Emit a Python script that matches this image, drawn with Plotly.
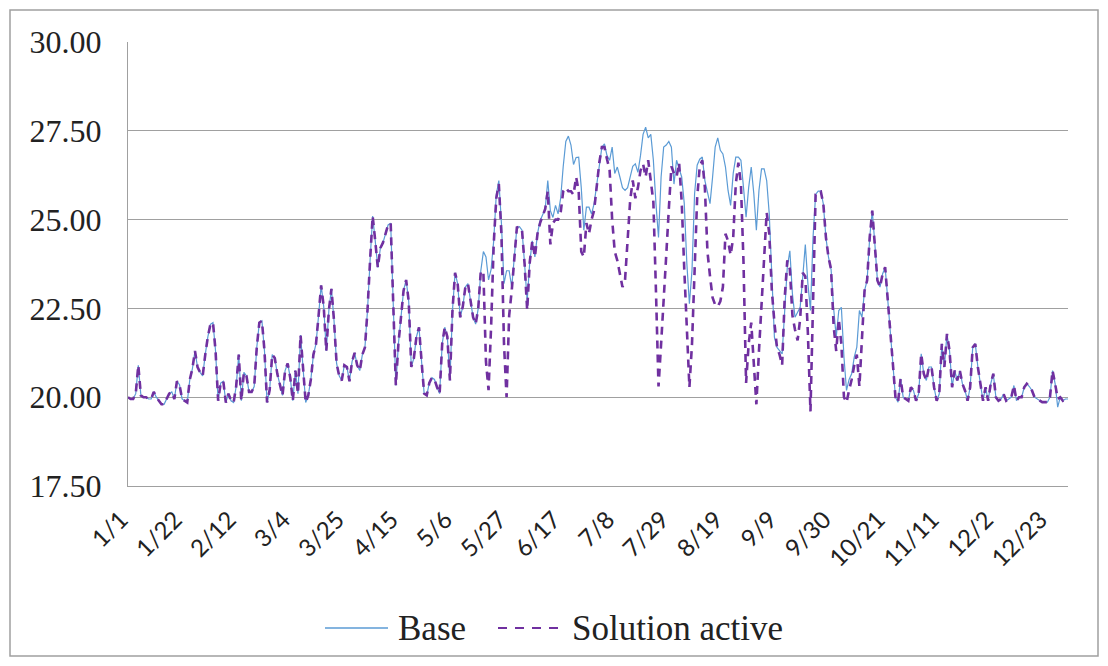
import datetime
import plotly.graph_objects as go

# Daily categories (leap year: 1/1 .. 12/31, 366 days)
start = datetime.date(2024, 1, 1)
days = [f"{(start + datetime.timedelta(d)).month}/{(start + datetime.timedelta(d)).day}" for d in range(366)]
tick_labels = days[::21]

base = [
    20.0, 19.95, 19.95, 20.1, 20.9, 20.05, 20.0, 20.0, 19.95, 19.95,
    20.15, 20.0, 19.9, 19.8, 19.8, 19.95, 20.1, 20.15, 19.95, 20.45,
    20.35, 19.95, 19.9, 19.85, 20.5, 20.8, 21.3, 20.85, 20.7, 20.6,
    21.2, 21.7, 22.05, 22.1, 21.3, 19.9, 20.4, 20.45, 19.85, 20.1,
    19.9, 19.85, 20.3, 21.2, 19.9, 20.7, 20.6, 20.15, 20.15, 20.3,
    21.4, 22.1, 22.15, 21.3, 19.85, 20.2, 21.2, 21.1, 20.65, 20.3,
    20.05, 20.75, 20.95, 20.55, 19.9, 20.75, 20.1, 21.75, 20.85, 19.85,
    20.05, 20.5, 21.2, 21.5, 22.3, 23.15, 22.55, 21.3, 22.45, 23.05,
    22.15, 20.95, 20.6, 20.47, 20.9, 20.85, 20.45, 21.0, 21.25, 20.9,
    20.75, 21.2, 21.4, 22.45, 23.85, 25.1, 24.4, 23.65, 24.2, 24.35,
    24.6, 24.85, 24.9, 22.4, 20.33, 21.5, 22.25, 23.0, 23.3, 22.7,
    20.85, 21.1, 21.7, 21.97, 21.0, 20.1, 20.05, 20.4, 20.55, 20.5,
    20.28, 20.1, 21.5, 21.97, 21.7, 20.47, 22.45, 23.5, 23.2, 22.25,
    22.55, 23.1, 23.2, 22.72, 22.25, 22.06, 22.5, 23.56, 24.1, 23.95,
    23.3, 23.6, 24.4, 25.7, 26.1, 24.9, 23.2, 23.56, 23.56, 23.1,
    24.0, 24.78, 24.8, 24.7, 23.75, 22.72, 23.8, 24.4, 23.95, 24.6,
    24.97, 25.16, 25.3, 26.1, 25.25, 25.06, 25.4, 25.16, 25.6, 26.5,
    27.2, 27.35, 27.1, 26.55, 26.75, 26.76, 25.9, 24.7, 25.35, 25.35,
    25.16, 25.45, 26.0, 26.6, 27.04, 27.13, 26.8, 26.67, 27.04, 26.3,
    26.48, 26.2, 25.9, 25.82, 25.9, 26.2, 26.5, 26.57, 26.33, 26.8,
    27.4, 27.6, 27.3, 27.4, 26.67, 25.45, 24.5, 26.2, 27.04, 27.1,
    27.2, 27.04, 26.0, 26.67, 26.4, 26.2, 25.45, 23.76, 22.63, 23.57,
    25.73, 26.53, 26.7, 26.76, 26.1, 25.73, 25.45, 26.2, 27.04, 27.3,
    26.95, 26.85, 26.48, 25.82, 25.4, 26.3, 26.76, 26.76, 26.67, 25.9,
    25.07, 25.9, 26.48, 25.73, 24.7, 25.82, 26.43, 26.43, 26.1, 25.16,
    23.38, 21.69, 21.4, 21.3, 21.22, 22.44, 23.66, 24.12, 22.9, 22.25,
    22.4, 22.53, 23.38, 24.3, 23.2, 22.44, 24.5, 25.71, 25.8, 25.8,
    25.44, 24.5, 23.94, 23.6, 22.5, 21.69, 22.44, 22.53, 21.13, 20.19,
    20.5, 20.66, 21.13, 21.41, 22.44, 22.25, 23.0, 23.29, 24.5, 25.25,
    24.32, 23.29, 23.1, 23.47, 23.66, 22.81, 21.8, 20.94, 20.0, 19.86,
    20.52, 20.0, 19.95, 19.9, 20.28, 20.19, 19.9, 20.09, 21.22, 20.66,
    20.47, 20.85, 20.85, 20.28, 19.9, 20.09, 21.5, 20.85, 21.78, 21.31,
    20.28, 20.75, 20.47, 20.75, 20.38, 20.19, 19.9, 20.28, 21.4, 21.5,
    20.85, 20.38, 19.9, 20.28, 19.9, 20.38, 20.66, 20.0, 19.9, 19.95,
    20.09, 19.9, 19.95, 20.0, 20.33, 19.9, 20.0, 20.0, 20.28, 20.38,
    20.3, 20.19, 20.0, 19.95, 19.9, 19.86, 19.86, 19.86, 20.0, 20.75,
    20.38, 19.72, 20.0, 19.9, 19.95, 19.95,
]

solution = [
    20.0, 19.95, 19.95, 20.1, 20.9, 20.05, 20.0, 20.0, 19.95, 19.95,
    20.15, 20.0, 19.9, 19.8, 19.8, 19.95, 20.1, 20.15, 19.95, 20.45,
    20.35, 19.95, 19.9, 19.85, 20.5, 20.8, 21.3, 20.85, 20.7, 20.6,
    21.2, 21.7, 22.05, 22.1, 21.3, 19.9, 20.4, 20.45, 19.85, 20.1,
    19.9, 19.85, 20.3, 21.2, 19.9, 20.7, 20.6, 20.15, 20.15, 20.3,
    21.4, 22.1, 22.15, 21.3, 19.85, 20.2, 21.2, 21.1, 20.65, 20.3,
    20.05, 20.75, 20.95, 20.55, 19.9, 20.75, 20.1, 21.75, 20.85, 19.85,
    20.05, 20.5, 21.2, 21.5, 22.3, 23.15, 22.55, 21.3, 22.45, 23.05,
    22.15, 20.95, 20.6, 20.47, 20.9, 20.85, 20.45, 21.0, 21.25, 20.9,
    20.75, 21.2, 21.4, 22.45, 23.85, 25.1, 24.4, 23.65, 24.2, 24.35,
    24.6, 24.85, 24.9, 22.4, 20.33, 21.5, 22.25, 23.0, 23.3, 22.7,
    20.85, 21.1, 21.7, 21.97, 21.0, 20.1, 20.05, 20.4, 20.55, 20.5,
    20.28, 20.1, 21.5, 21.97, 21.7, 20.47, 22.45, 23.5, 23.2, 22.25,
    22.55, 23.1, 23.2, 22.72, 22.25, 22.06, 22.5, 23.56, 23.5, 21.0,
    20.2, 22.0, 24.3, 25.6, 26.0, 24.6, 21.5, 20.0, 22.3, 23.0,
    24.0, 24.78, 24.8, 24.7, 23.75, 22.45, 23.8, 24.4, 23.95, 24.6,
    24.9, 25.1, 25.3, 25.8, 24.3, 24.9, 25.0, 25.0, 25.2, 25.8,
    25.9, 25.8, 25.8, 25.7, 26.2, 25.8, 24.1, 23.95, 24.9, 24.6,
    25.0, 25.26, 26.0, 26.6, 27.04, 27.04, 26.7, 26.4, 25.0, 24.1,
    23.85, 23.5, 23.1, 23.3, 24.5, 25.55, 26.1, 25.6, 25.9, 26.38,
    26.57, 26.2, 26.67, 26.0, 25.5, 23.0, 20.3, 21.5, 22.6, 24.0,
    25.3, 26.5, 26.3, 26.2, 26.6, 25.5, 23.6, 21.8, 20.28, 21.5,
    23.4, 25.6, 26.5, 26.67, 25.9, 24.1, 23.4, 22.8, 22.6, 22.55,
    22.7, 23.1, 24.6, 24.4, 24.0, 24.5, 26.0, 26.6, 26.0, 23.8,
    20.4, 21.5, 22.1, 21.0, 19.8, 21.3, 22.6, 23.8, 25.2, 24.6,
    23.0, 22.1, 21.4, 21.2, 20.9, 22.8, 23.85, 23.6, 22.3, 21.9,
    21.6, 22.2, 23.5, 23.4, 21.8, 19.6, 22.6, 25.71, 25.8, 25.8,
    25.44, 24.5, 23.94, 23.6, 22.0, 21.3, 22.2, 21.5, 20.0, 19.85,
    20.2, 20.5, 20.9, 21.2, 20.3, 21.7, 23.0, 23.29, 24.5, 25.25,
    24.32, 23.29, 23.1, 23.47, 23.66, 22.81, 21.8, 20.94, 20.0, 19.86,
    20.52, 20.0, 19.95, 19.9, 20.28, 20.19, 19.9, 20.09, 21.22, 20.66,
    20.47, 20.85, 20.85, 20.28, 19.9, 20.09, 21.5, 20.85, 21.78, 21.31,
    20.28, 20.75, 20.47, 20.75, 20.38, 20.19, 19.9, 20.28, 21.4, 21.5,
    20.85, 20.38, 19.9, 20.28, 19.9, 20.38, 20.66, 20.0, 19.9, 19.95,
    20.09, 19.9, 19.95, 20.0, 20.33, 19.9, 20.0, 20.0, 20.28, 20.38,
    20.3, 20.19, 20.0, 19.95, 19.9, 19.86, 19.86, 19.86, 20.0, 20.75,
    20.38, 19.95, 20.0, 19.9, 19.95, 19.95,
]

series_names = ["Base", "Solution active"]
colors = ["#5b9bd5", "#7030a0"]

fig = go.Figure()
fig.add_trace(go.Scatter(
    x=days, y=base, name=series_names[0], mode="lines", showlegend=False,
    line=dict(color=colors[0], width=1.2),
))
fig.add_trace(go.Scatter(
    x=days, y=solution, name=series_names[1], mode="lines", showlegend=False,
    line=dict(color=colors[1], width=2.6, dash="8px,6px"),
))

# page body has an 8px margin; figure drawn at (8, 8) on screen
OFF = 8
W, H = 1100, 658
PL, PR, PT, PB = 128, 1068, 42, 486   # plot area in screen px
L, T = PL - OFF, PT - OFF
R = (W + OFF) - PR
B = (H + OFF) - PB
pw, ph = PR - PL, PB - PT

def px(x):
    return (x - PL) / pw

def py(y):
    return (PB - y) / ph

legend_y = py(628)
shapes = [
    dict(type="rect", xref="paper", yref="paper",
         x0=px(10), x1=px(1098), y0=py(656), y1=py(10),
         line=dict(color="#a0a0a0", width=1.5), fillcolor="rgba(0,0,0,0)", layer="below"),
    dict(type="line", xref="paper", yref="paper", x0=px(325), x1=px(388), y0=legend_y, y1=legend_y,
         line=dict(color=colors[0], width=1.4)),
    dict(type="line", xref="paper", yref="paper", x0=px(498), x1=px(559), y0=legend_y, y1=legend_y,
         line=dict(color=colors[1], width=2.2, dash="9px,8px")),
]
annotations = [
    dict(text=series_names[0], xref="paper", yref="paper", x=px(396), y=legend_y,
         xanchor="left", yanchor="middle", showarrow=False,
         font=dict(family="Liberation Serif", size=35, color="#222")),
    dict(text=series_names[1], xref="paper", yref="paper", x=px(570), y=legend_y,
         xanchor="left", yanchor="middle", showarrow=False,
         font=dict(family="Liberation Serif", size=35, color="#222")),
]

fig.update_layout(
    width=W, height=H,
    margin=dict(l=L, r=R, t=T, b=B, autoexpand=False),
    paper_bgcolor="white", plot_bgcolor="white",
    showlegend=False,
    xaxis=dict(
        type="category", categoryorder="array", categoryarray=days,
        range=[0, 365], tickmode="array", tickvals=tick_labels, ticktext=tick_labels,
        tickangle=-45, showgrid=False, showline=True, linecolor="#a0a0a0", linewidth=1,
        tickfont=dict(family="Lato", size=24, color="#222"), ticks="", zeroline=False,
        automargin=False, ticklabelstandoff=9, ticklabelshift=-7,
    ),
    yaxis=dict(
        range=[17.5, 30], dtick=2.5, tick0=17.5, tickformat=".2f",
        showgrid=True, gridcolor="#a0a0a0", gridwidth=1,
        showline=True, linecolor="#a0a0a0", linewidth=1, zeroline=False,
        tickfont=dict(family="Liberation Serif", size=32, color="#222"),
        ticks="", ticklabelstandoff=19, automargin=False,
    ),
    shapes=shapes,
    annotations=annotations,
)

fig.write_html("out.html")
